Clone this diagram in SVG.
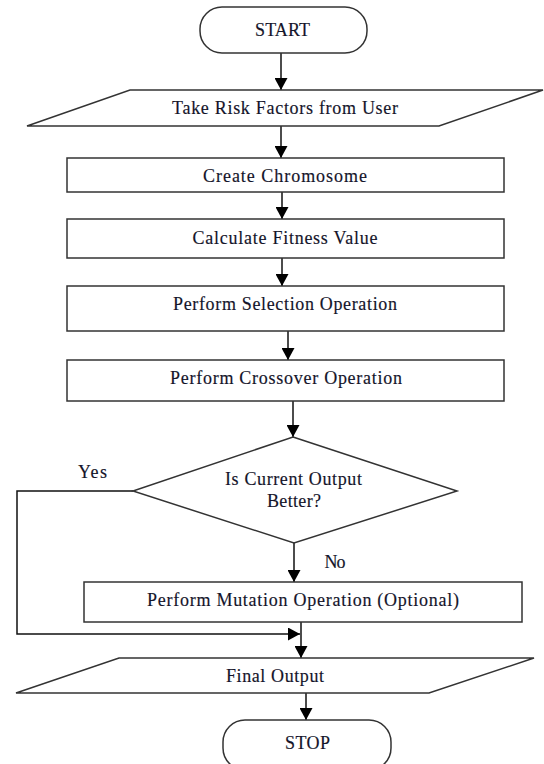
<svg xmlns="http://www.w3.org/2000/svg" width="544" height="764" viewBox="0 0 544 764">
  <style>
    .shape { fill: #ffffff; stroke: #333333; stroke-width: 1.5; }
    .conn { fill: none; stroke: #111111; stroke-width: 1.5; }
    .lbl { font-family: "Liberation Serif", "Times New Roman", serif; font-size: 18px; fill: #14142a; stroke: #14142a; stroke-width: 0.15; text-anchor: middle; }
  </style>
  <defs>
    <marker id="arrow" markerUnits="userSpaceOnUse" markerWidth="12" markerHeight="13" refX="12" refY="6.5" orient="auto">
      <path d="M0,0 L12,6.5 L0,13 z" fill="#000000"/>
    </marker>
  </defs>
  <rect width="544" height="764" fill="#ffffff"/>

  <g id="connectors">
    <line class="conn" x1="281" y1="53" x2="281" y2="90" marker-end="url(#arrow)"/>
    <line class="conn" x1="281" y1="126" x2="281" y2="158" marker-end="url(#arrow)"/>
    <line class="conn" x1="282" y1="192" x2="282" y2="219" marker-end="url(#arrow)"/>
    <line class="conn" x1="282" y1="258" x2="282" y2="286" marker-end="url(#arrow)"/>
    <line class="conn" x1="288" y1="331" x2="288" y2="360" marker-end="url(#arrow)"/>
    <line class="conn" x1="293" y1="401" x2="293" y2="437" marker-end="url(#arrow)"/>
    <line class="conn" x1="294" y1="543" x2="294" y2="582" marker-end="url(#arrow)"/>
    <polyline class="conn" points="133,491 17,491 17,634 300,634" marker-end="url(#arrow)"/>
    <line class="conn" x1="301" y1="622" x2="301" y2="658" marker-end="url(#arrow)"/>
    <line class="conn" x1="306" y1="693" x2="306" y2="720" marker-end="url(#arrow)"/>
    <text class="lbl" x="92.5" y="478" textLength="29">Yes</text>
    <text class="lbl" x="335" y="568" textLength="21">No</text>
  </g>

  <g id="start">
    <rect class="shape" x="200" y="7" width="167" height="46" rx="22" ry="22"/>
    <text class="lbl" x="282.5" y="36" textLength="55">START</text>
  </g>

  <g id="input">
    <polygon class="shape" points="130,90 543,90 439,126 27,126"/>
    <text class="lbl" x="285" y="114" textLength="226">Take Risk Factors from User</text>
  </g>

  <g id="create">
    <rect class="shape" x="67" y="158" width="437" height="34"/>
    <text class="lbl" x="285" y="182" textLength="164">Create Chromosome</text>
  </g>

  <g id="fitness">
    <rect class="shape" x="67" y="219" width="437" height="39"/>
    <text class="lbl" x="285" y="244" textLength="185">Calculate Fitness Value</text>
  </g>

  <g id="selection">
    <rect class="shape" x="67" y="286" width="437" height="45"/>
    <text class="lbl" x="285" y="310" textLength="224">Perform Selection Operation</text>
  </g>

  <g id="crossover">
    <rect class="shape" x="67" y="360" width="437" height="41"/>
    <text class="lbl" x="286" y="384" textLength="232">Perform Crossover Operation</text>
  </g>

  <g id="decision">
    <polygon class="shape" points="293,437 457,491 294,543 133,491"/>
    <text class="lbl" x="293.5" y="485" textLength="137">Is Current Output</text>
    <text class="lbl" x="294" y="507" textLength="54">Better?</text>
  </g>

  <g id="mutation">
    <rect class="shape" x="84" y="582" width="438" height="40"/>
    <text class="lbl" x="303" y="606" textLength="312">Perform Mutation Operation (Optional)</text>
  </g>

  <g id="output">
    <polygon class="shape" points="119,658 534,658 429,693 16,693"/>
    <text class="lbl" x="275" y="682" textLength="98">Final Output</text>
  </g>

  <g id="stop">
    <rect class="shape" x="223" y="720" width="168" height="50" rx="22" ry="22"/>
    <text class="lbl" x="307.5" y="749" textLength="45">STOP</text>
  </g>
</svg>
